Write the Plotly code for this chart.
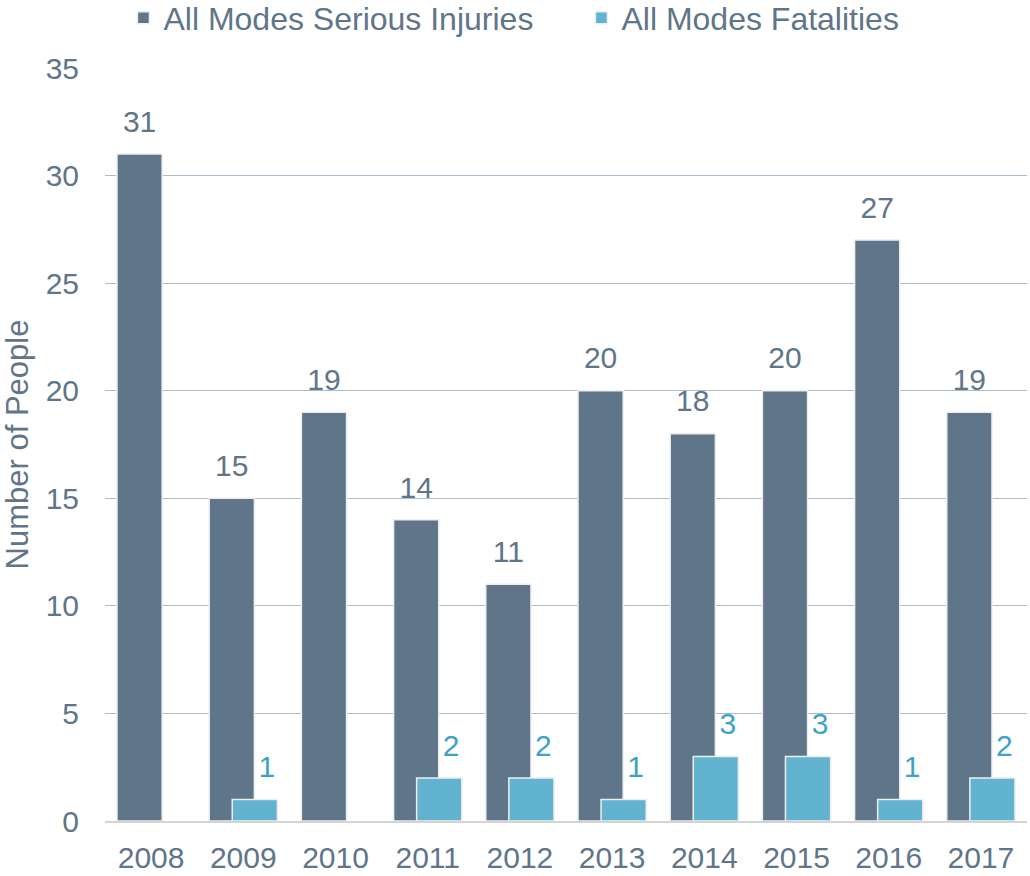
import plotly.graph_objects as go

years = ["2008", "2009", "2010", "2011", "2012", "2013", "2014", "2015", "2016", "2017"]
serious_injuries = [31, 15, 19, 14, 11, 20, 18, 20, 27, 19]
fatalities = [None, 1, None, 2, 2, 1, 3, 3, 1, 2]

inj_color = "#5f7589"
fat_color = "#62b3cf"
text_color = "#5f7589"
fat_text = "#3ea2c8"
font_family = "Arial, 'Liberation Sans', sans-serif"

idx = list(range(len(years)))
bar_w = 0.49
inj_off = -0.37
fat_off = -0.12

fig = go.Figure()
fig.add_trace(go.Bar(
    x=idx, y=serious_injuries, name="All Modes Serious Injuries",
    marker=dict(color=inj_color, line=dict(color="#eeeeee", width=1.5)),
    width=bar_w, offset=inj_off, hoverinfo="y",
))
fig.add_trace(go.Bar(
    x=idx, y=fatalities, name="All Modes Fatalities",
    marker=dict(color=fat_color, line=dict(color="#eeeeee", width=1.5)),
    width=bar_w, offset=fat_off, hoverinfo="y",
))
# value labels
fig.add_trace(go.Scatter(
    x=[i + inj_off + bar_w / 2 for i in idx], y=serious_injuries,
    mode="markers+text", text=[str(v) for v in serious_injuries],
    textposition="top center", marker=dict(size=22, opacity=0),
    textfont=dict(color=text_color, size=30, family=font_family),
    showlegend=False, hoverinfo="skip", cliponaxis=False,
))
fat_idx = [i for i, v in zip(idx, fatalities) if v is not None]
fat_vals = [v for v in fatalities if v is not None]
fig.add_trace(go.Scatter(
    x=[i + fat_off + bar_w / 2 + 0.13 for i in fat_idx], y=fat_vals,
    mode="markers+text", text=[str(v) for v in fat_vals],
    textposition="top center", marker=dict(size=22, opacity=0),
    textfont=dict(color=fat_text, size=30, family=font_family),
    showlegend=False, hoverinfo="skip", cliponaxis=False,
))

fig.update_layout(
    width=1030, height=876,
    barmode="overlay",
    paper_bgcolor="white", plot_bgcolor="white",
    margin=dict(l=105, r=3, t=68, b=55, autoexpand=False),
    font=dict(family=font_family, color=text_color, size=30),
    showlegend=True,
    legend=dict(orientation="h", x=0.02, xanchor="left", y=1.030, yanchor="bottom",
                font=dict(size=32, color=text_color), itemwidth=30,
                traceorder="normal", entrywidthmode="pixels", entrywidth=413),
)
fig.update_xaxes(
    range=[-0.5, 9.5], tickvals=idx, ticktext=years,
    showgrid=False, showline=True, linecolor="#d4d4d4", linewidth=1.5,
    ticks="", tickfont=dict(size=30, color=text_color), ticklabelstandoff=9,
    automargin=False, zeroline=False,
)
fig.update_yaxes(
    range=[0, 35], dtick=5, showgrid=True, gridcolor="#a9bccb", gridwidth=1,
    zeroline=False, showline=False, ticks="", automargin=False,
    tickfont=dict(size=30, color=text_color), ticklabelstandoff=25,
    title=dict(text="Number of People", font=dict(size=31, color=text_color), standoff=16),
)

fig.write_html(
    "out.html",
    config={"displayModeBar": False},
    post_script="document.body.style.margin='0';document.body.style.overflow='hidden';",
)
